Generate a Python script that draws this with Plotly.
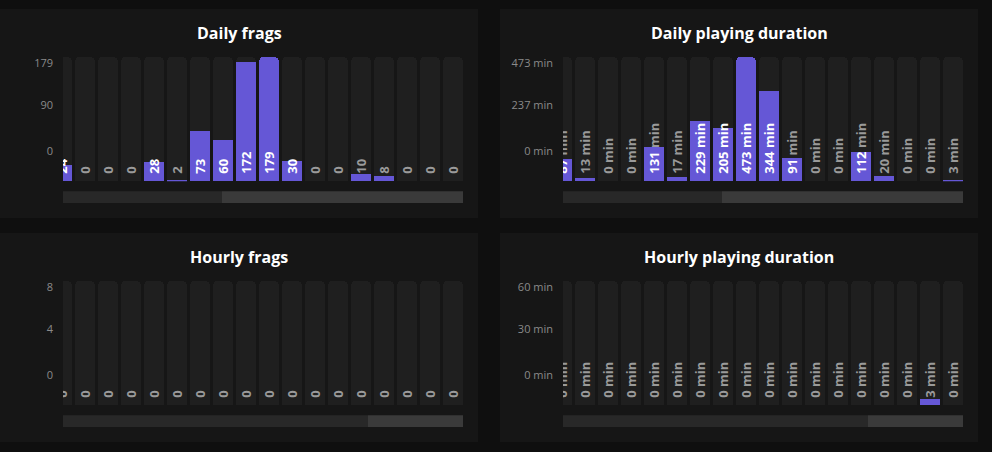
import plotly.graph_objects as go

# ---- data ----
slots = list(range(18))

daily_frags = [24, 0, 0, 0, 28, 2, 73, 60, 172, 179, 30, 0, 0, 10, 8, 0, 0, 0]
daily_minutes = [87, 13, 0, 0, 131, 17, 229, 205, 473, 344, 91, 0, 0, 112, 20, 0, 0, 3]
hourly_frags = [0, 0, 0, 0, 0, 0, 0, 0, 0, 0, 0, 0, 0, 0, 0, 0, 0, 0]
hourly_minutes = [0, 0, 0, 0, 0, 0, 0, 0, 0, 0, 0, 0, 0, 0, 0, 0, 3, 0]

titles = ["Daily frags", "Daily playing duration", "Hourly frags", "Hourly playing duration"]
axis_max = [179, 473, 8, 60]
tick_labels = [
    ["0", "90", "179"],
    ["0 min", "237 min", "473 min"],
    ["0", "4", "8"],
    ["0 min", "30 min", "60 min"],
]
units = ["", " min", "", " min"]
scroll_split = [0.3975, 0.3975, 0.7625, 0.7625]   # where the scrollbar changes shade

series = [daily_frags, daily_minutes, hourly_frags, hourly_minutes]

# ---- look ----
W, H = 992, 452
PAGE_BG = "#0f0f0f"
CARD_BG = "#161616"
TRACK = "#1f1f1f"
PURPLE = "#6557d6"
WHITE = "#ffffff"
GREY_TXT = "#9a9a9a"
TICK_TXT = "#8a8a8a"

# pixel boxes of the four cards / plot areas (left, top)
cards = [(0, 7), (500, 7), (0, 232), (500, 232)]
card_w, card_h = 478, 210
plot_left = [63, 563, 63, 563]
plot_top = [55, 55, 280, 280]
plot_w, plot_h = 400, 125
tick_frac = [0.24, 0.608, 0.952]
label_lift = 4   # px the rotated labels sit above the bar base (on top of plotly's own pad)


def px_x(p):
    return p / W


def px_y(p):
    return 1 - p / H


def label(v, unit, vmax):
    # part of the label that sits on the purple bar is white, the rest grey
    bar_px = v / vmax * plot_h
    num = str(v)
    need_num = 4 + 6 * len(num)
    need_all = need_num + 4 + 23 if unit else need_num
    if unit and bar_px >= need_all:
        return f'<span style="color:{WHITE}">{num}{unit}</span>'
    if bar_px >= need_num:
        return f'<span style="color:{WHITE}">{num}</span><span style="color:{GREY_TXT}">{unit}</span>'
    return f'<span style="color:{GREY_TXT}">{num}{unit}</span>'


fig = go.Figure()
shapes = []
annotations = []

for i, vals in enumerate(series):
    ax = "" if i == 0 else str(i + 1)
    xa, ya = "x" + ax, "y" + ax
    vmax = axis_max[i]
    lift = label_lift / plot_h * vmax

    # background track
    fig.add_trace(go.Bar(x=slots, y=[vmax] * len(slots), xaxis=xa, yaxis=ya,
                         marker=dict(color=TRACK, cornerradius=5, line_width=0),
                         width=0.87, hoverinfo="skip", showlegend=False))
    # value bars
    fig.add_trace(go.Bar(x=slots, y=vals, xaxis=xa, yaxis=ya,
                         marker=dict(color=PURPLE, cornerradius=5, line_width=0),
                         width=0.87, showlegend=False))
    # labels, rotated, anchored near the bar base
    fig.add_trace(go.Bar(x=slots, y=[vmax - lift] * len(slots), base=lift, xaxis=xa, yaxis=ya,
                         marker=dict(color="rgba(0,0,0,0)", line_width=0),
                         width=0.87, hoverinfo="skip", showlegend=False,
                         text=[label(v, units[i], vmax) for v in vals],
                         textposition="inside", insidetextanchor="start",
                         textangle=-90, constraintext="none",
                         textfont=dict(family="Open Sans", size=13, weight="bold")))

    l, t = plot_left[i], plot_top[i]
    fig.layout["xaxis" + ax] = dict(domain=[px_x(l), px_x(l + plot_w)], range=[0.04, 17.43],
                                   visible=False, fixedrange=True, anchor=ya)
    fig.layout["yaxis" + ax] = dict(domain=[px_y(t + plot_h), px_y(t)], range=[0, vmax],
                                   tickvals=[f * vmax for f in tick_frac], ticktext=tick_labels[i],
                                   showgrid=False, zeroline=False, showline=False, ticks="",
                                   ticklabelstandoff=9,
                                   tickfont=dict(family="Open Sans", size=11, color=TICK_TXT),
                                   anchor=xa, fixedrange=True)

    cx, cy = cards[i]
    shapes.append(dict(type="rect", xref="paper", yref="paper", layer="below",
                       x0=px_x(cx), x1=px_x(cx + card_w), y0=px_y(cy + card_h), y1=px_y(cy),
                       fillcolor=CARD_BG, line_width=0))
    # scrollbar under the bars
    sb_top = t + plot_h + 10
    split = l + scroll_split[i] * plot_w
    shapes.append(dict(type="rect", xref="paper", yref="paper", layer="below",
                       x0=px_x(l), x1=px_x(split), y0=px_y(sb_top + 12), y1=px_y(sb_top),
                       fillcolor="#282828", line_width=0))
    shapes.append(dict(type="rect", xref="paper", yref="paper", layer="below",
                       x0=px_x(split), x1=px_x(l + plot_w), y0=px_y(sb_top + 12), y1=px_y(sb_top),
                       fillcolor="#3a3a3a", line_width=0))

    annotations.append(dict(text=titles[i], xref="paper", yref="paper", showarrow=False,
                            x=px_x(cx + card_w / 2), y=px_y(cy + 24),
                            xanchor="center", yanchor="middle",
                            font=dict(family="Open Sans", size=16, color=WHITE, weight="bold")))

fig.update_layout(
    width=W, height=H,
    margin=dict(l=0, r=0, t=0, b=0),
    paper_bgcolor=PAGE_BG, plot_bgcolor="rgba(0,0,0,0)",
    barmode="overlay", bargap=0,
    shapes=shapes, annotations=annotations,
    showlegend=False,
)

# drop the default page margin so the figure sits at the window corner
fig.write_html("out.html", config={"displayModeBar": False},
               post_script="document.body.style.margin='0';"
                           "document.body.style.background='#0f0f0f';")
